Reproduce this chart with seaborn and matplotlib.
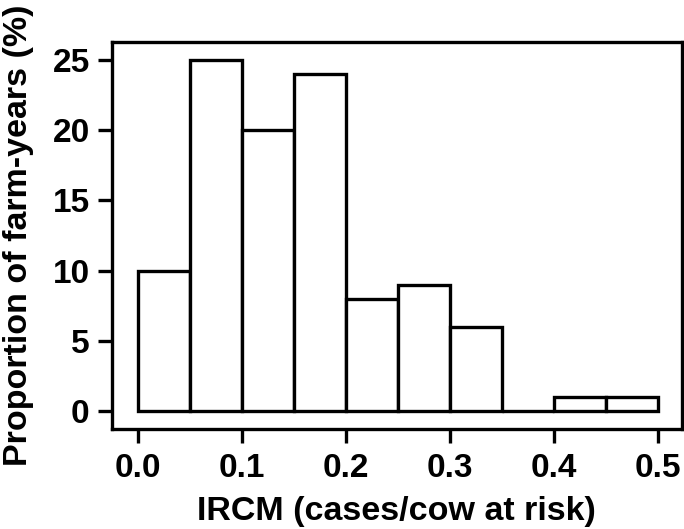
import matplotlib
matplotlib.use("Agg")
import matplotlib.pyplot as plt
import numpy as np
import seaborn as sns

# bins of IRCM and share of farm-years (%)
bin_edges = [0.0, 0.05, 0.10, 0.15, 0.20, 0.25, 0.30, 0.35, 0.40, 0.45, 0.50]
percent = [10, 25, 20, 24, 8, 9, 6, 0, 1, 1]
x_ticks = [0.0, 0.1, 0.2, 0.3, 0.4, 0.5]
x_labels = ["0.0", "0.1", "0.2", "0.3", "0.4", "0.5"]
y_ticks = [0, 5, 10, 15, 20, 25]

centers = (np.array(bin_edges[:-1]) + np.array(bin_edges[1:])) / 2

sns.set_style("white")
plt.rcParams['font.family'] = ['Liberation Sans', 'DejaVu Sans']
plt.rcParams['font.weight'] = 'bold'
plt.rcParams['text.color'] = 'black'
plt.rcParams['axes.labelcolor'] = 'black'
plt.rcParams['xtick.color'] = 'black'
plt.rcParams['ytick.color'] = 'black'

fig = plt.figure(figsize=(6.84, 5.29), dpi=100)
ax = fig.add_axes([0.1637, 0.189, 0.833, 0.7316])

sns.histplot(x=centers, weights=percent, bins=bin_edges, stat="count",
             color="white", alpha=1, edgecolor="black", linewidth=2.4, ax=ax)

ax.set_xlim(-0.025, 0.523)
ax.set_ylim(-1.3, 26.3)
ax.set_xticks(x_ticks)
ax.set_xticklabels(x_labels)
ax.set_yticks(y_ticks)
ax.tick_params(axis="both", direction="out", length=10, width=2.4,
               labelsize=24, bottom=True, left=True)
ax.tick_params(axis="x", pad=7)
ax.tick_params(axis="y", pad=6)
for lab in ax.get_xticklabels() + ax.get_yticklabels():
    lab.set_fontweight("bold")
for sp in ax.spines.values():
    sp.set_linewidth(2.4)
    sp.set_color("black")

ax.set_xlabel("IRCM (cases/cow at risk)", fontsize=24.5, fontweight="bold", labelpad=9)
ax.set_ylabel("Proportion of farm-years (%)", fontsize=24.5, fontweight="bold", labelpad=13)

fig.savefig("out.png", dpi=100)
